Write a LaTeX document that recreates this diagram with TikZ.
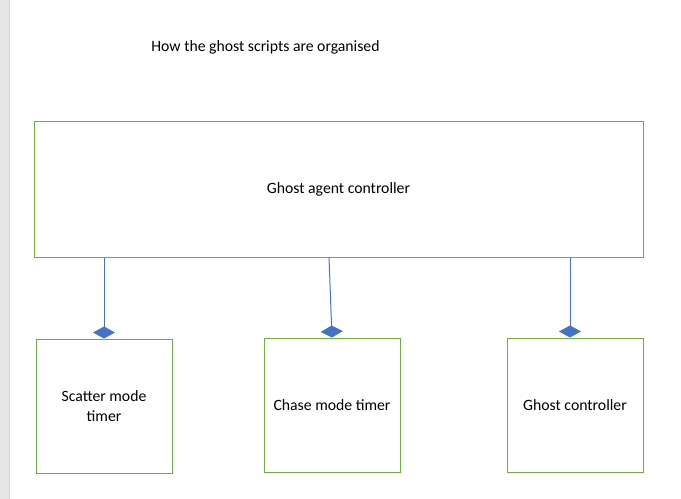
\documentclass[tikz,border=0pt]{standalone}
\usepackage{fontspec}
\setmainfont{Carlito}
\usetikzlibrary{arrows.meta}
\definecolor{boxgreen}{HTML}{70AD47}
\definecolor{linkblue}{HTML}{4472C4}
\definecolor{pagegrey}{HTML}{E6E6E6}
\definecolor{edgegrey}{HTML}{D2D2D2}
\tikzset{
  script/.style={draw=boxgreen,line width=0.75pt,inner sep=2pt,align=center,
    font=\fontsize{11.8pt}{14.4pt}\selectfont},
  link/.style={draw=linkblue,line width=0.75pt,
    -{Diamond[length=9pt,width=16.5pt,fill=linkblue]}},
}

\begin{document}
\begin{tikzpicture}[x=0.75pt,y=-0.75pt]
\useasboundingbox (0,0) rectangle (681,499);
% \draw[help lines,step=50] (0,0) grid (681,499);
\fill[pagegrey] (0,0) rectangle (9,499);
\draw[edgegrey,line width=0.75pt] (9.5,0) -- (9.5,499);
\node (title) [font=\fontsize{11.8pt}{14.4pt}\selectfont] at (265.5,47) {How the ghost scripts are organised};
\node (ctl) [script,minimum width=456.75pt,minimum height=101.25pt] at (338.5,189.5) {Ghost agent controller};
%
\node (scat) [script,minimum width=102pt,minimum height=100.5pt] at (104,406) {Scatter mode\\timer};
\node (chase) [script,minimum width=102pt,minimum height=100.5pt] at (332,405) {Chase mode timer};
\node (ghost) [script,minimum width=102pt,minimum height=100.5pt] at (575,405) {Ghost controller};
%
\path
(ctl.south -| scat.north) edge[link] (scat.north)
(ctl.south -| 329,0) edge[link] (chase.north)
(ctl.south -| 570,0) edge[link] (ghost.north -| 570,0)
;
\end{tikzpicture}
\end{document}
